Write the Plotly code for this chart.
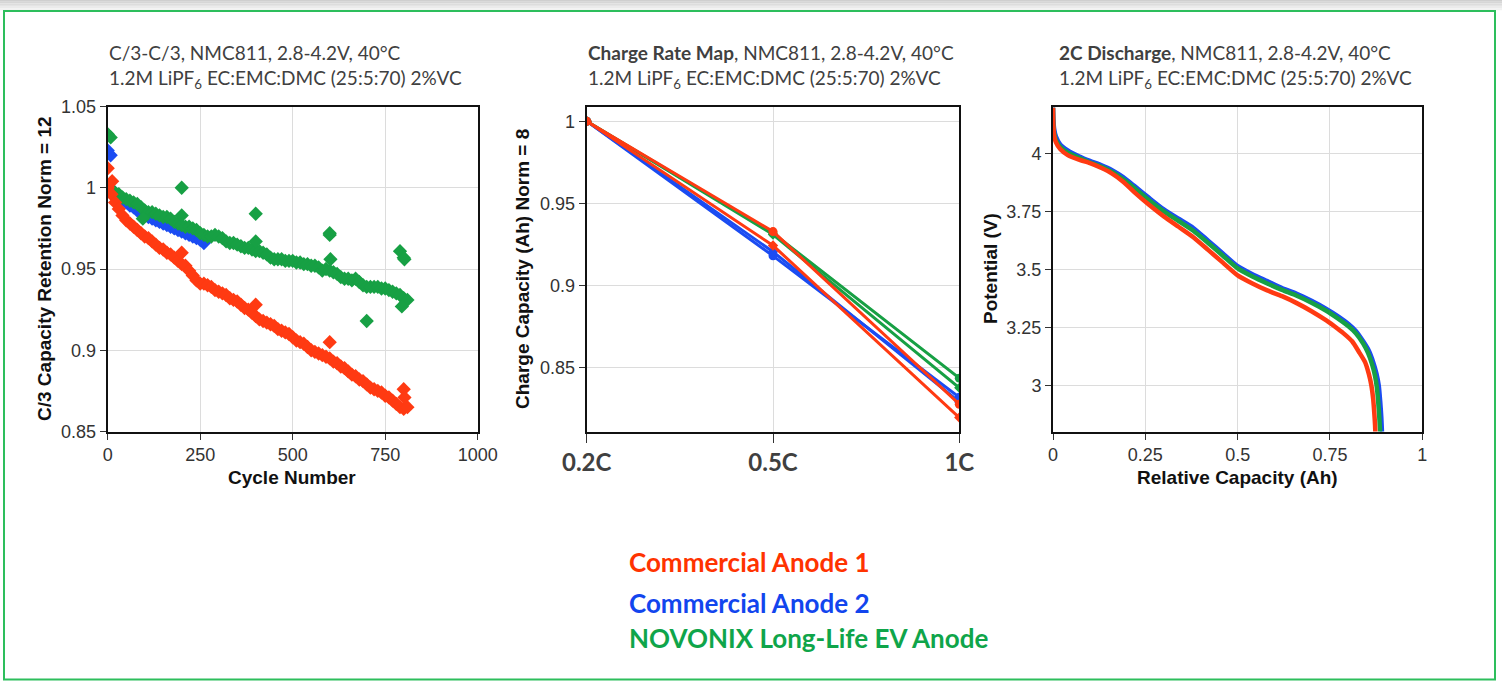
import plotly.graph_objects as go

W, H = 1502, 682

# ---------------- Panel 1 data: C/3 capacity retention ----------------
red_cycles = list(range(0, 820, 10))
red_ret = [1.000, 0.996, 0.991, 0.987, 0.983, 0.980, 0.978, 0.976, 0.974, 0.972,
           0.970, 0.969, 0.967, 0.965, 0.963, 0.962, 0.960, 0.959, 0.957, 0.955,
           0.953, 0.952, 0.949, 0.946, 0.943, 0.941, 0.941, 0.940, 0.939, 0.937,
           0.936, 0.935, 0.934, 0.932, 0.931, 0.930, 0.928, 0.926, 0.925, 0.923,
           0.921, 0.919, 0.918, 0.917, 0.916, 0.915, 0.913, 0.912, 0.911, 0.910,
           0.908, 0.906, 0.905, 0.904, 0.902, 0.900, 0.899, 0.898, 0.897, 0.896,
           0.895, 0.893, 0.892, 0.890, 0.889, 0.887, 0.885, 0.884, 0.882, 0.881,
           0.879, 0.877, 0.876, 0.875, 0.874, 0.872, 0.871, 0.869, 0.867, 0.865,
           0.864, 0.865]
red_out_cycles = [0, 12, 200, 400, 600, 800, 802]
red_out_ret = [1.012, 1.004, 0.960, 0.928, 0.905, 0.876, 0.871]

green_cycles = list(range(10, 820, 10))
green_ret = [0.999, 0.997, 0.996, 0.994, 0.993, 0.992, 0.991, 0.990, 0.988, 0.986,
             0.985, 0.985, 0.984, 0.983, 0.982, 0.982, 0.981, 0.979, 0.978, 0.977,
             0.976, 0.976, 0.975, 0.974, 0.972, 0.971, 0.970, 0.970, 0.971, 0.970,
             0.969, 0.967, 0.966, 0.966, 0.965, 0.964, 0.963, 0.963, 0.962, 0.961,
             0.961, 0.960, 0.959, 0.957, 0.956, 0.956, 0.956, 0.955, 0.955, 0.955,
             0.954, 0.954, 0.953, 0.953, 0.952, 0.952, 0.951, 0.949, 0.950, 0.949,
             0.948, 0.947, 0.945, 0.944, 0.944, 0.943, 0.944, 0.942, 0.940, 0.939,
             0.939, 0.939, 0.939, 0.938, 0.938, 0.937, 0.936, 0.935, 0.934, 0.932,
             0.931]
green_out_cycles = [0, 8, 95, 200, 200, 400, 400, 600, 600, 602, 700, 790, 795, 800, 802]
green_out_ret = [1.033, 1.031, 0.981, 1.000, 0.983, 0.984, 0.967, 0.971, 0.972, 0.956,
                 0.918, 0.961, 0.927, 0.957, 0.956]

blue_cycles = list(range(10, 270, 10))
blue_ret = [0.999, 0.997, 0.995, 0.993, 0.991, 0.989, 0.988, 0.986, 0.985, 0.983,
            0.982, 0.981, 0.980, 0.979, 0.978, 0.977, 0.976, 0.975, 0.974, 0.973,
            0.972, 0.971, 0.970, 0.969, 0.968, 0.966]
blue_out_cycles = [0, 8]
blue_out_ret = [1.023, 1.020]

# ---------------- Panel 2 data: charge rate map ----------------
rate_labels = ["0.2C", "0.5C", "1C"]
red_rate_cells = [[1.0, 0.9328, 0.8276], [1.0, 0.9243, 0.8195]]
blue_rate_cells = [[1.0, 0.9180, 0.8318], [1.0, 0.9205, 0.8290]]
green_rate_cells = [[1.0, 0.9318, 0.8435], [1.0, 0.9310, 0.8376]]

# ---------------- Panel 3 data: 2C discharge ----------------
blue_cap = [0, 0.001, 0.003, 0.008, 0.02, 0.04, 0.07, 0.10, 0.13, 0.16, 0.19, 0.22,
            0.26, 0.30, 0.34, 0.38, 0.42, 0.46, 0.50, 0.54, 0.58, 0.62, 0.66, 0.70,
            0.74, 0.77, 0.80, 0.82, 0.84, 0.855, 0.867, 0.876, 0.882, 0.886, 0.889, 0.891]
blue_v = [4.2, 4.15, 4.11, 4.075, 4.04, 4.015, 3.99, 3.97, 3.952, 3.93, 3.90, 3.862,
          3.81, 3.76, 3.72, 3.68, 3.625, 3.57, 3.515, 3.48, 3.45, 3.42, 3.395, 3.365,
          3.33, 3.30, 3.265, 3.235, 3.19, 3.15, 3.10, 3.05, 3.00, 2.93, 2.86, 2.79]
green_cap = [0, 0.001, 0.003, 0.008, 0.02, 0.04, 0.07, 0.10, 0.13, 0.16, 0.19, 0.22,
             0.26, 0.30, 0.34, 0.38, 0.42, 0.46, 0.50, 0.54, 0.58, 0.62, 0.66, 0.70,
             0.74, 0.77, 0.80, 0.82, 0.84, 0.853, 0.864, 0.872, 0.877, 0.881, 0.884, 0.886]
green_v = [4.2, 4.12, 4.09, 4.06, 4.03, 4.005, 3.983, 3.963, 3.945, 3.922, 3.89, 3.853,
           3.80, 3.752, 3.71, 3.668, 3.615, 3.56, 3.505, 3.47, 3.44, 3.412, 3.387, 3.357,
           3.322, 3.29, 3.255, 3.225, 3.18, 3.14, 3.09, 3.04, 2.99, 2.92, 2.85, 2.79]
red_cap = [0, 0.001, 0.003, 0.008, 0.02, 0.04, 0.07, 0.10, 0.13, 0.16, 0.19, 0.22,
           0.26, 0.30, 0.34, 0.38, 0.42, 0.46, 0.50, 0.54, 0.58, 0.62, 0.66, 0.70,
           0.74, 0.77, 0.79, 0.81, 0.83, 0.845, 0.855, 0.862, 0.867, 0.870, 0.872, 0.873]
red_v = [4.2, 4.12, 4.08, 4.05, 4.02, 3.995, 3.975, 3.96, 3.94, 3.915, 3.88, 3.835,
         3.78, 3.73, 3.685, 3.64, 3.585, 3.53, 3.475, 3.44, 3.41, 3.385, 3.355, 3.32,
         3.28, 3.245, 3.22, 3.19, 3.14, 3.10, 3.05, 3.00, 2.94, 2.88, 2.83, 2.79]

legend_names = ["Commercial Anode 1", "Commercial Anode 2", "NOVONIX Long-Life EV Anode"]

RED = "#FF3A12"
BLUE = "#1B4CF2"
GREEN = "#17A044"
TXT_RED = "#FF3300"
TXT_BLUE = "#1245EE"
TXT_GREEN = "#0FA54A"

fig = go.Figure()


def px_x(p):
    return p / W


def px_y(p):
    return 1 - p / H


# ---- panel 1 traces ----
mk = dict(symbol="diamond", size=11, line=dict(width=0))
fig.add_trace(go.Scatter(x=blue_cycles + blue_out_cycles, y=blue_ret + blue_out_ret, mode="markers",
                         marker=dict(color=BLUE, **mk), xaxis="x", yaxis="y", showlegend=False))
fig.add_trace(go.Scatter(x=green_cycles + green_out_cycles, y=green_ret + green_out_ret, mode="markers",
                         marker=dict(color=GREEN, **mk), xaxis="x", yaxis="y", showlegend=False))
fig.add_trace(go.Scatter(x=red_cycles + red_out_cycles, y=red_ret + red_out_ret, mode="markers",
                         marker=dict(color=RED, **mk), xaxis="x", yaxis="y", showlegend=False))

# ---- panel 2 traces ----
rate_pos = [0, 1, 2]
for cells, col in [(blue_rate_cells, BLUE), (green_rate_cells, GREEN), (red_rate_cells, RED)]:
    for i, vals in enumerate(cells):
        fig.add_trace(go.Scatter(x=rate_pos, y=vals, mode="lines+markers",
                                 line=dict(color=col, width=3),
                                 marker=dict(color=col, size=9 if i == 0 else 8,
                                             symbol="circle" if i == 0 else "diamond"),
                                 xaxis="x2", yaxis="y2", showlegend=False))

# ---- panel 3 traces ----
for cap, v, col in [(blue_cap, blue_v, BLUE), (green_cap, green_v, GREEN), (red_cap, red_v, RED)]:
    fig.add_trace(go.Scatter(x=cap, y=v, mode="lines", line=dict(color=col, width=4.5, shape="spline", smoothing=0.6),
                             xaxis="x3", yaxis="y3", showlegend=False))

TICKF = dict(family="Liberation Sans, Arial", size=18, color="#333333")
common = dict(showline=True, linecolor="#111111", linewidth=2, mirror=True, automargin=False,
              showgrid=True, gridcolor="#dcdcdc", gridwidth=1, zeroline=False,
              ticks="outside", ticklen=6, tickcolor="#333333", tickfont=TICKF)

p1x = [107.7, 477.7]
p2x = [586.7, 959.3]
p3x = [1053, 1422.3]
ytop, ybot = 106.5, 431.5

fig.update_layout(
    width=W, height=H, margin=dict(l=0, r=0, t=0, b=0, autoexpand=False),
    paper_bgcolor="white", plot_bgcolor="white", showlegend=False,
    xaxis=dict(domain=[px_x(p1x[0]), px_x(p1x[1])], range=[0, 1000], dtick=250, anchor="y", **common),
    yaxis=dict(domain=[px_y(ybot), px_y(ytop)], range=[0.85, 1.05], dtick=0.05, anchor="x", **common),
    xaxis2=dict(domain=[px_x(p2x[0]), px_x(p2x[1])], range=[0, 2], tickvals=rate_pos,
                ticktext=["<b>%s</b>" % t for t in rate_labels], anchor="y2",
                **{**common, "tickfont": dict(family="Lato", size=24, color="#404040"), "ticklen": 9}),
    yaxis2=dict(domain=[px_y(ybot), px_y(ytop)], range=[0.811, 1.009], tickvals=[0.85, 0.9, 0.95, 1],
                anchor="x2", **common),
    xaxis3=dict(domain=[px_x(p3x[0]), px_x(p3x[1])], range=[0, 1], dtick=0.25, anchor="y3", **common),
    yaxis3=dict(domain=[px_y(ybot), px_y(ytop)], range=[2.8, 4.205], tickvals=[3, 3.25, 3.5, 3.75, 4],
                anchor="x3", **common),
)

# ---------------- decoration: gray top band + green frame ----------------
shapes = []
grays = ["#cfcfcf", "#d6d6d6", "#dddddd", "#e4e4e4", "#ebebeb", "#f2f2f2"]
for i, g in enumerate(grays):
    shapes.append(dict(type="rect", xref="paper", yref="paper", x0=0, x1=1,
                       y0=px_y(i * 1.7 + 1.7), y1=px_y(i * 1.7), fillcolor=g, line=dict(width=0), layer="below"))
shapes.append(dict(type="rect", xref="paper", yref="paper", x0=px_x(4), x1=px_x(1495),
                   y0=px_y(679.5), y1=px_y(11), line=dict(color="#2DBE5C", width=2), fillcolor="rgba(0,0,0,0)"))
fig.update_layout(shapes=shapes)

# ---------------- text annotations ----------------
ann = []
TF = dict(family="Lato", size=19, color="#404040")
titles = [
    (107, "C/3-C/3, NMC811, 2.8-4.2V, 40°C"),
    (586, "<b>Charge Rate Map</b>, NMC811, 2.8-4.2V, 40°C"),
    (1057, "<b>2C Discharge</b>, NMC811, 2.8-4.2V, 40°C"),
]
for x0, t in titles:
    ann.append(dict(x=px_x(x0), y=px_y(52), xref="paper", yref="paper", text=t, showarrow=False,
                    xanchor="left", yanchor="middle", font=TF))
    ann.append(dict(x=px_x(x0), y=px_y(79), xref="paper", yref="paper",
                    text="1.2M LiPF<sub>6</sub> EC:EMC:DMC (25:5:70) 2%VC", showarrow=False,
                    xanchor="left", yanchor="middle", font=TF))

AF = dict(family="Liberation Sans, Arial", size=19, color="#111111")
axis_titles = [
    (44, 269, "C/3 Capacity Retention Norm = 12", -90),
    (292, 477, "Cycle Number", 0),
    (522, 269, "Charge Capacity (Ah) Norm = 8", -90),
    (990, 269, "Potential (V)", -90),
    (1237, 477, "Relative Capacity (Ah)", 0),
]
for x0, y0, t, ang in axis_titles:
    ann.append(dict(x=px_x(x0), y=px_y(y0), xref="paper", yref="paper", text="<b>%s</b>" % t,
                    showarrow=False, xanchor="center", yanchor="middle", textangle=ang, font=AF))

LF = dict(family="Lato", size=26)
for (y0, name, col) in [(562, legend_names[0], TXT_RED), (603, legend_names[1], TXT_BLUE),
                        (638, legend_names[2], TXT_GREEN)]:
    ann.append(dict(x=px_x(627), y=px_y(y0), xref="paper", yref="paper", text="<b>%s</b>" % name,
                    showarrow=False, xanchor="left", yanchor="middle", font=dict(color=col, **LF)))

fig.update_layout(annotations=ann)

fig.write_html("out.html", config={"displayModeBar": False},
               post_script="document.body.style.margin='0';document.body.style.padding='0';"
                           "document.documentElement.style.overflow='hidden';")
